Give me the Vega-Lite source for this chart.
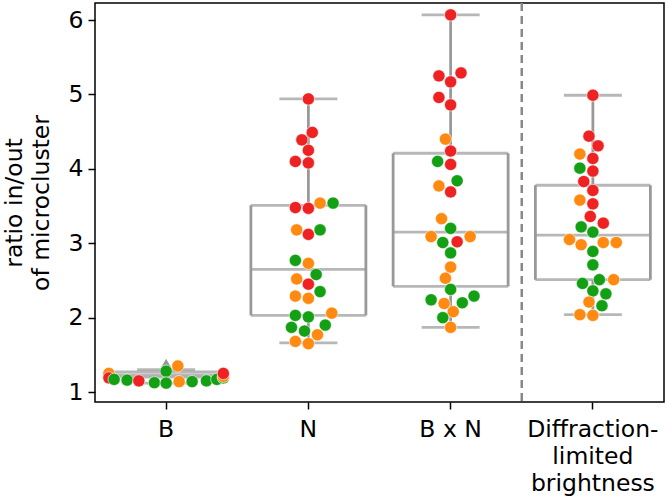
{
  "$schema": "https://vega.github.io/schema/vega-lite/v6.json",
  "width": 569,
  "height": 399,
  "autosize": "none",
  "padding": {"left": 95, "top": 3, "right": 2, "bottom": 94},
  "background": "white",
  "config": {
    "font": "DejaVu Sans",
    "view": {"stroke": "#000000", "strokeWidth": 1.5},
    "axis": {"domain": false, "grid": false, "tickColor": "#000000", "tickWidth": 1.5, "tickSize": 7, "labelColor": "#000000", "titleColor": "#000000", "labelFontSize": 23.5, "titleFontSize": 23.5, "titleFontWeight": "normal", "labelFont": "DejaVu Sans", "titleFont": "DejaVu Sans"}
  },
  "datasets": {
    "pts": [
      {"cond": "B", "ratio": 1.25, "cell": "c2", "lane": -4.4},
      {"cond": "B", "ratio": 1.19, "cell": "c1", "lane": -4.4},
      {"cond": "B", "ratio": 1.17, "cell": "c3", "lane": -4.0},
      {"cond": "B", "ratio": 1.16, "cell": "c3", "lane": -3.0},
      {"cond": "B", "ratio": 1.15, "cell": "c1", "lane": -2.1},
      {"cond": "B", "ratio": 1.125, "cell": "c3", "lane": -0.9},
      {"cond": "B", "ratio": 1.28, "cell": "c3", "lane": 0},
      {"cond": "B", "ratio": 1.12, "cell": "c3", "lane": 0},
      {"cond": "B", "ratio": 1.35, "cell": "c2", "lane": 0.9},
      {"cond": "B", "ratio": 1.14, "cell": "c2", "lane": 1.0},
      {"cond": "B", "ratio": 1.14, "cell": "c3", "lane": 2.0},
      {"cond": "B", "ratio": 1.15, "cell": "c3", "lane": 3.1},
      {"cond": "B", "ratio": 1.17, "cell": "c3", "lane": 3.9},
      {"cond": "B", "ratio": 1.19, "cell": "c3", "lane": 4.4},
      {"cond": "B", "ratio": 1.21, "cell": "c2", "lane": 4.4},
      {"cond": "B", "ratio": 1.25, "cell": "c1", "lane": 4.4},

      {"cond": "N", "ratio": 4.94, "cell": "c1", "lane": 0},
      {"cond": "N", "ratio": 4.49, "cell": "c1", "lane": 0.3},
      {"cond": "N", "ratio": 4.39, "cell": "c1", "lane": -0.5},
      {"cond": "N", "ratio": 4.25, "cell": "c1", "lane": 0},
      {"cond": "N", "ratio": 4.10, "cell": "c1", "lane": -1.0},
      {"cond": "N", "ratio": 4.08, "cell": "c1", "lane": 0},
      {"cond": "N", "ratio": 3.48, "cell": "c1", "lane": -1.0},
      {"cond": "N", "ratio": 3.47, "cell": "c1", "lane": 0},
      {"cond": "N", "ratio": 3.54, "cell": "c2", "lane": 0.9},
      {"cond": "N", "ratio": 3.54, "cell": "c3", "lane": 1.9},
      {"cond": "N", "ratio": 3.18, "cell": "c2", "lane": -0.9},
      {"cond": "N", "ratio": 3.12, "cell": "c1", "lane": 0},
      {"cond": "N", "ratio": 3.18, "cell": "c3", "lane": 0.9},
      {"cond": "N", "ratio": 2.77, "cell": "c3", "lane": -1.0},
      {"cond": "N", "ratio": 2.73, "cell": "c2", "lane": 0},
      {"cond": "N", "ratio": 2.58, "cell": "c3", "lane": 0.6},
      {"cond": "N", "ratio": 2.52, "cell": "c2", "lane": -0.9},
      {"cond": "N", "ratio": 2.45, "cell": "c1", "lane": 0},
      {"cond": "N", "ratio": 2.35, "cell": "c3", "lane": 0.9},
      {"cond": "N", "ratio": 2.29, "cell": "c2", "lane": -1.0},
      {"cond": "N", "ratio": 2.26, "cell": "c2", "lane": 0},
      {"cond": "N", "ratio": 2.03, "cell": "c3", "lane": -1.0},
      {"cond": "N", "ratio": 2.01, "cell": "c3", "lane": 0},
      {"cond": "N", "ratio": 2.06, "cell": "c2", "lane": 1.8},
      {"cond": "N", "ratio": 1.87, "cell": "c3", "lane": -1.3},
      {"cond": "N", "ratio": 1.82, "cell": "c3", "lane": -0.3},
      {"cond": "N", "ratio": 1.90, "cell": "c3", "lane": 1.3},
      {"cond": "N", "ratio": 1.77, "cell": "c2", "lane": 0.7},
      {"cond": "N", "ratio": 1.68, "cell": "c2", "lane": -1.0},
      {"cond": "N", "ratio": 1.65, "cell": "c2", "lane": 0},

      {"cond": "B x N", "ratio": 6.07, "cell": "c1", "lane": 0},
      {"cond": "B x N", "ratio": 5.25, "cell": "c1", "lane": -0.9},
      {"cond": "B x N", "ratio": 5.29, "cell": "c1", "lane": 0.8},
      {"cond": "B x N", "ratio": 5.17, "cell": "c1", "lane": 0},
      {"cond": "B x N", "ratio": 4.96, "cell": "c1", "lane": -0.9},
      {"cond": "B x N", "ratio": 4.86, "cell": "c1", "lane": 0},
      {"cond": "B x N", "ratio": 4.40, "cell": "c2", "lane": -0.4},
      {"cond": "B x N", "ratio": 4.24, "cell": "c1", "lane": 0},
      {"cond": "B x N", "ratio": 4.10, "cell": "c3", "lane": -1.0},
      {"cond": "B x N", "ratio": 4.06, "cell": "c1", "lane": 0},
      {"cond": "B x N", "ratio": 3.84, "cell": "c3", "lane": 0.5},
      {"cond": "B x N", "ratio": 3.77, "cell": "c2", "lane": -0.9},
      {"cond": "B x N", "ratio": 3.69, "cell": "c1", "lane": 0},
      {"cond": "B x N", "ratio": 3.33, "cell": "c2", "lane": -0.7},
      {"cond": "B x N", "ratio": 3.20, "cell": "c3", "lane": 0},
      {"cond": "B x N", "ratio": 3.09, "cell": "c2", "lane": -1.5},
      {"cond": "B x N", "ratio": 3.09, "cell": "c2", "lane": 1.5},
      {"cond": "B x N", "ratio": 3.01, "cell": "c3", "lane": -0.6},
      {"cond": "B x N", "ratio": 3.02, "cell": "c1", "lane": 0.5},
      {"cond": "B x N", "ratio": 2.87, "cell": "c3", "lane": 0},
      {"cond": "B x N", "ratio": 2.68, "cell": "c2", "lane": 0},
      {"cond": "B x N", "ratio": 2.53, "cell": "c2", "lane": -0.4},
      {"cond": "B x N", "ratio": 2.38, "cell": "c3", "lane": 0},
      {"cond": "B x N", "ratio": 2.24, "cell": "c3", "lane": -1.5},
      {"cond": "B x N", "ratio": 2.19, "cell": "c2", "lane": -0.5},
      {"cond": "B x N", "ratio": 2.20, "cell": "c3", "lane": 0.9},
      {"cond": "B x N", "ratio": 2.29, "cell": "c3", "lane": 1.8},
      {"cond": "B x N", "ratio": 2.08, "cell": "c2", "lane": 0.2},
      {"cond": "B x N", "ratio": 2.00, "cell": "c3", "lane": -0.6},
      {"cond": "B x N", "ratio": 1.87, "cell": "c2", "lane": 0},

      {"cond": "Diffraction-limited brightness", "ratio": 4.99, "cell": "c1", "lane": 0},
      {"cond": "Diffraction-limited brightness", "ratio": 4.44, "cell": "c1", "lane": -0.3},
      {"cond": "Diffraction-limited brightness", "ratio": 4.31, "cell": "c1", "lane": 0.4},
      {"cond": "Diffraction-limited brightness", "ratio": 4.20, "cell": "c2", "lane": -1.0},
      {"cond": "Diffraction-limited brightness", "ratio": 4.14, "cell": "c1", "lane": 0},
      {"cond": "Diffraction-limited brightness", "ratio": 4.01, "cell": "c3", "lane": -1.0},
      {"cond": "Diffraction-limited brightness", "ratio": 3.97, "cell": "c1", "lane": 0},
      {"cond": "Diffraction-limited brightness", "ratio": 3.83, "cell": "c1", "lane": -0.7},
      {"cond": "Diffraction-limited brightness", "ratio": 3.71, "cell": "c1", "lane": 0},
      {"cond": "Diffraction-limited brightness", "ratio": 3.58, "cell": "c2", "lane": -1.0},
      {"cond": "Diffraction-limited brightness", "ratio": 3.53, "cell": "c1", "lane": 0},
      {"cond": "Diffraction-limited brightness", "ratio": 3.36, "cell": "c1", "lane": -0.2},
      {"cond": "Diffraction-limited brightness", "ratio": 3.27, "cell": "c1", "lane": 0.8},
      {"cond": "Diffraction-limited brightness", "ratio": 3.22, "cell": "c3", "lane": -0.9},
      {"cond": "Diffraction-limited brightness", "ratio": 3.15, "cell": "c3", "lane": 0},
      {"cond": "Diffraction-limited brightness", "ratio": 3.05, "cell": "c2", "lane": -1.8},
      {"cond": "Diffraction-limited brightness", "ratio": 2.98, "cell": "c2", "lane": -0.9},
      {"cond": "Diffraction-limited brightness", "ratio": 3.01, "cell": "c2", "lane": 0.8},
      {"cond": "Diffraction-limited brightness", "ratio": 3.01, "cell": "c2", "lane": 1.8},
      {"cond": "Diffraction-limited brightness", "ratio": 2.89, "cell": "c3", "lane": 0},
      {"cond": "Diffraction-limited brightness", "ratio": 2.71, "cell": "c3", "lane": 0},
      {"cond": "Diffraction-limited brightness", "ratio": 2.46, "cell": "c3", "lane": -0.8},
      {"cond": "Diffraction-limited brightness", "ratio": 2.51, "cell": "c3", "lane": 0.5},
      {"cond": "Diffraction-limited brightness", "ratio": 2.51, "cell": "c2", "lane": 1.6},
      {"cond": "Diffraction-limited brightness", "ratio": 2.36, "cell": "c3", "lane": 0},
      {"cond": "Diffraction-limited brightness", "ratio": 2.32, "cell": "c3", "lane": 1.0},
      {"cond": "Diffraction-limited brightness", "ratio": 2.21, "cell": "c2", "lane": -0.3},
      {"cond": "Diffraction-limited brightness", "ratio": 2.16, "cell": "c3", "lane": 0.7},
      {"cond": "Diffraction-limited brightness", "ratio": 2.04, "cell": "c2", "lane": -1.0},
      {"cond": "Diffraction-limited brightness", "ratio": 2.03, "cell": "c2", "lane": 0}
    ],
    "box": [
      {"cond": "B", "lo": 1.12, "q1": 1.2, "med": 1.23, "q3": 1.27, "hi": 1.30, "mean": 1.36},
      {"cond": "N", "lo": 1.66, "q1": 2.03, "med": 2.65, "q3": 3.51, "hi": 4.94},
      {"cond": "B x N", "lo": 1.87, "q1": 2.42, "med": 3.15, "q3": 4.21, "hi": 6.07},
      {"cond": "Diffraction-limited brightness", "lo": 2.04, "q1": 2.51, "med": 3.11, "q3": 3.78, "hi": 4.99}
    ]
  },
  "encoding": {
    "x": {
      "field": "cond", "type": "nominal",
      "scale": {"domain": ["B", "N", "B x N", "Diffraction-limited brightness"], "paddingInner": 0, "paddingOuter": 0},
      "axis": {"title": null, "labelAngle": 0, "labelPadding": 8, "labelLineHeight": 27,
               "labelExpr": "datum.label == 'Diffraction-limited brightness' ? ['Diffraction-', 'limited', 'brightness'] : datum.label"}
    }
  },
  "layer": [
    {
      "data": {"name": "box"},
      "mark": {"type": "rule", "color": "#999999", "strokeWidth": 2.8},
      "encoding": {
        "y": {"field": "lo", "type": "quantitative", "scale": {"domain": [0.866, 6.23], "nice": false, "zero": false},
              "axis": {"values": [1, 2, 3, 4, 5, 6], "format": "d", "title": ["ratio in/out", "of microcluster"], "titleLineHeight": 27, "labelPadding": 5, "titlePadding": 15}},
        "y2": {"field": "q1"}
      }
    },
    {
      "data": {"name": "box"},
      "mark": {"type": "rule", "color": "#999999", "strokeWidth": 2.8},
      "encoding": {
        "y": {"field": "q3", "type": "quantitative"},
        "y2": {"field": "hi"}
      }
    },
    {
      "data": {"name": "box"},
      "mark": {"type": "tick", "color": "#999999", "size": 115, "thickness": 2.8},
      "encoding": {"y": {"field": "q1", "type": "quantitative"}}
    },
    {
      "data": {"name": "box"},
      "mark": {"type": "tick", "color": "#999999", "size": 115, "thickness": 2.8},
      "encoding": {"y": {"field": "q3", "type": "quantitative"}}
    },
    {
      "data": {"name": "box"},
      "mark": {"type": "rule", "color": "#999999", "strokeWidth": 2.8, "xOffset": -57.5},
      "encoding": {"y": {"field": "q1", "type": "quantitative"}, "y2": {"field": "q3"}}
    },
    {
      "data": {"name": "box"},
      "mark": {"type": "rule", "color": "#999999", "strokeWidth": 2.8, "xOffset": 57.5},
      "encoding": {"y": {"field": "q1", "type": "quantitative"}, "y2": {"field": "q3"}}
    },
    {
      "data": {"name": "box"},
      "mark": {"type": "tick", "color": "#999999", "size": 115, "thickness": 2.8},
      "encoding": {"y": {"field": "med", "type": "quantitative"}}
    },
    {
      "data": {"name": "box"},
      "mark": {"type": "tick", "color": "#999999", "size": 58, "thickness": 2.8},
      "encoding": {"y": {"field": "lo", "type": "quantitative"}}
    },
    {
      "data": {"name": "box"},
      "mark": {"type": "tick", "color": "#999999", "size": 58, "thickness": 2.8},
      "encoding": {"y": {"field": "hi", "type": "quantitative"}}
    },
    {
      "data": {"name": "box"},
      "mark": {"type": "point", "shape": "triangle-up", "filled": true, "color": "#999999", "opacity": 1, "size": 230},
      "encoding": {"y": {"field": "mean", "type": "quantitative"}}
    },
    {
      "data": {"values": [{"sep": "Diffraction-limited brightness"}]},
      "mark": {"type": "rule", "color": "#888888", "strokeWidth": 2.5, "strokeDash": [8, 5]},
      "encoding": {"x": {"field": "sep", "type": "nominal", "bandPosition": 0}}
    },
    {
      "data": {"name": "pts"},
      "mark": {"type": "circle", "size": 150, "opacity": 1, "stroke": "white", "strokeWidth": 0.6},
      "encoding": {
        "y": {"field": "ratio", "type": "quantitative"},
        "xOffset": {"field": "lane", "type": "quantitative", "scale": {"domain": [-5.47, 5.47], "range": [0, 142.25]}},
        "color": {"field": "cell", "type": "nominal", "scale": {"domain": ["c1", "c2", "c3"], "range": ["#ee2222", "#ff8a12", "#14a014"]}, "legend": null}
      }
    }
  ]
}
